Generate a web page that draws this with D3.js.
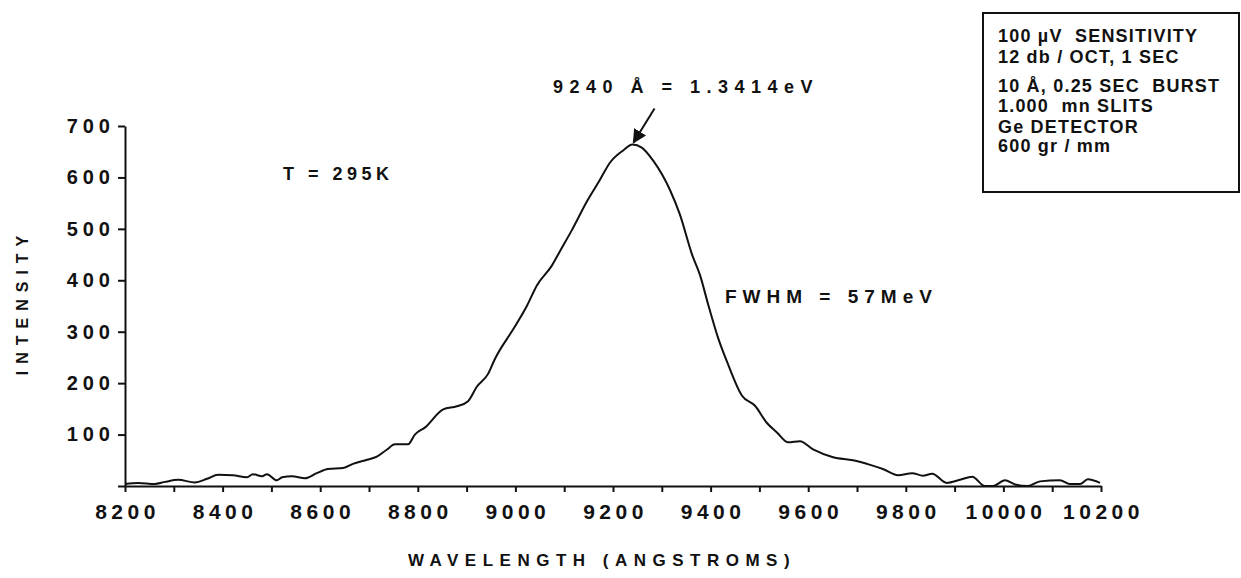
<!DOCTYPE html>
<html>
<head>
<meta charset="utf-8">
<script src="https://cdn.jsdelivr.net/npm/d3@7"></script>
<style>
  body { margin: 0; background: #fff; }
  svg { display: block; }
  text { font-family: "Liberation Sans", Arial, sans-serif; font-weight: bold; fill: #111; white-space: pre; }
  .axis path, .axis line { stroke: #111; }
</style>
</head>
<body>
<div id="chart"></div>
<script>
// wavelength (angstroms) and intensity
var wavelength = [8200, 8227, 8261, 8282, 8309, 8343, 8368, 8391, 8421, 8450, 8462, 8481, 8491, 8511, 8522, 8542,
  8569, 8593, 8616, 8647, 8667, 8696, 8716, 8737, 8753, 8780, 8794, 8815, 8852, 8880, 8903, 8921, 8944, 8958,
  8999, 9024, 9044, 9075, 9091, 9116, 9147, 9173, 9194, 9220, 9240, 9259, 9282, 9317, 9337, 9362, 9378, 9395,
  9415, 9436, 9464, 9491, 9515, 9536, 9559, 9583, 9610, 9651, 9692, 9727, 9753, 9784, 9813, 9835, 9854, 9884,
  9911, 9936, 9962, 9979, 10003, 10024, 10050, 10075, 10116, 10136, 10157, 10173, 10198];
var intensity = [4, 6, 4, 8, 12, 7, 14, 22, 21, 17, 23, 19, 23, 11, 17, 19,
  15, 25, 33, 35, 43, 51, 57, 71, 81, 81, 100, 114, 149, 155, 165, 193, 218, 247,
  310, 351, 390, 429, 456, 498, 554, 595, 629, 652, 664, 658, 633, 575, 528, 450, 411, 353,
  289, 236, 176, 156, 123, 104, 85, 87, 71, 56, 50, 41, 33, 21, 25, 20, 24, 6,
  12, 18, 0, 0, 11, 3, 0, 9, 11, 4, 4, 13, 6];

var xTicks = [8200, 8300, 8400, 8500, 8600, 8700, 8800, 8900, 9000, 9100, 9200, 9300, 9400,
  9500, 9600, 9700, 9800, 9900, 10000, 10100, 10200];
var xLabels = [8200, 8400, 8600, 8800, 9000, 9200, 9400, 9600, 9800, 10000, 10200];
var yTicks = [0, 100, 200, 300, 400, 500, 600, 700];
var yLabels = [100, 200, 300, 400, 500, 600, 700];

var legendLines = ["100 \u00b5V  SENSITIVITY", "12 db / OCT, 1 SEC", "10 \u00c5, 0.25 SEC  BURST",
  "1.000  mn SLITS", "Ge DETECTOR", "600 gr / mm"];

var width = 1241, height = 578;
var margin = {left: 125, top: 126, right: 140, bottom: 92};

var svg = d3.select("#chart").append("svg")
    .attr("width", width)
    .attr("height", height);

var x = d3.scaleLinear().domain([8200, 10200]).range([margin.left, width - margin.right]);
var y = d3.scaleLinear().domain([0, 700]).range([height - margin.bottom, margin.top]);

// x axis
var gx = svg.append("g")
    .attr("class", "axis")
    .attr("transform", "translate(0," + y(0) + ")")
    .call(d3.axisBottom(x).tickValues(xTicks).tickSize(6).tickSizeOuter(0).tickPadding(12)
      .tickFormat(function(d) { return xLabels.indexOf(d) >= 0 ? d : ""; }));
gx.select(".domain").attr("stroke-width", 2);
gx.selectAll(".tick line").attr("stroke-width", 2);
gx.selectAll(".tick text")
    .style("font-size", "21px")
    .style("letter-spacing", "4.5px")
    .attr("dx", "2px");

// y axis
var gy = svg.append("g")
    .attr("class", "axis")
    .attr("transform", "translate(" + x(8200) + ",0)")
    .call(d3.axisLeft(y).tickValues(yTicks).tickSize(7).tickSizeOuter(0)
      .tickFormat(function(d) { return yLabels.indexOf(d) >= 0 ? d : ""; }));
gy.select(".domain").attr("stroke-width", 2);
gy.selectAll(".tick line").attr("stroke-width", 2);
gy.selectAll(".tick text")
    .attr("x", -10)
    .style("font-size", "20px")
    .style("letter-spacing", "5px");

// axis titles
svg.append("text")
    .attr("x", 602)
    .attr("y", 566)
    .attr("text-anchor", "middle")
    .style("font-size", "17px")
    .style("letter-spacing", "6.5px")
    .text("WAVELENGTH (ANGSTROMS)");

svg.append("text")
    .attr("transform", "translate(28,302) rotate(-90)")
    .attr("text-anchor", "middle")
    .style("font-size", "16px")
    .style("letter-spacing", "7px")
    .text("INTENSITY");

// the trace
var line = d3.line()
    .x(function(d, i) { return x(wavelength[i]); })
    .y(function(d) { return y(d); })
    .curve(d3.curveMonotoneX);

svg.append("path")
    .datum(intensity)
    .attr("fill", "none")
    .attr("stroke", "#111")
    .attr("stroke-width", 2)
    .attr("d", line);

// peak annotation with arrow
var peakX = x(9240), peakY = y(664);
svg.append("defs").append("marker")
    .attr("id", "head")
    .attr("viewBox", "0 0 10 10")
    .attr("refX", 9).attr("refY", 5)
    .attr("markerWidth", 7).attr("markerHeight", 7)
    .attr("orient", "auto")
  .append("path")
    .attr("d", "M0,0 L10,5 L0,10 Z")
    .attr("fill", "#111");

svg.append("line")
    .attr("x1", peakX + 22).attr("y1", peakY - 36)
    .attr("x2", peakX + 1).attr("y2", peakY - 2)
    .attr("stroke", "#111")
    .attr("stroke-width", 2)
    .attr("marker-end", "url(#head)");

svg.append("text")
    .attr("x", 553)
    .attr("y", 93)
    .style("font-size", "18px")
    .style("letter-spacing", "6.5px")
    .text("9240 \u00c5 = 1.3414eV");

svg.append("text")
    .attr("x", 283)
    .attr("y", 180)
    .style("font-size", "18px")
    .style("letter-spacing", "4.5px")
    .text("T = 295K");

svg.append("text")
    .attr("x", 725)
    .attr("y", 303)
    .style("font-size", "19px")
    .style("letter-spacing", "6px")
    .text("FWHM = 57MeV");

// settings box
svg.append("rect")
    .attr("x", 983)
    .attr("y", 13)
    .attr("width", 256)
    .attr("height", 179)
    .attr("fill", "none")
    .attr("stroke", "#111")
    .attr("stroke-width", 2);

var legendY = [42, 63, 92, 112, 133, 152];
svg.selectAll(".legend-line")
    .data(legendLines)
  .enter().append("text")
    .attr("class", "legend-line")
    .attr("x", 998)
    .attr("y", function(d, i) { return legendY[i]; })
    .style("font-size", "18px")
    .style("letter-spacing", "1.2px")
    .text(function(d) { return d; });
</script>
</body>
</html>
